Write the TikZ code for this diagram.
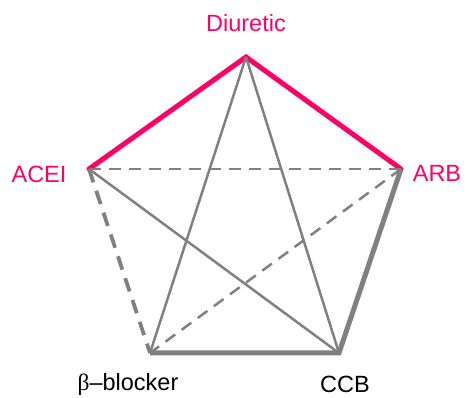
\documentclass[tikz,border=0pt]{standalone}
\usepackage{fontspec}
\setmainfont{Liberation Sans}
\newfontfamily\greekfont{Liberation Serif}
\definecolor{hot}{RGB}{255,0,102}
\definecolor{edgegray}{RGB}{128,128,128}
\begin{document}
\begin{tikzpicture}[x=1pt,y=-1pt,
  vertex/.style={inner sep=0pt,minimum size=0pt},
  lab/.style={font=\fontsize{23.5}{27}\selectfont},
  hotlab/.style={lab,text=hot},
  strong/.style={draw=hot,line width=5pt,line cap=round},
  thinedge/.style={draw=edgegray,line width=2.5pt},
  thickedge/.style={draw=edgegray,line width=5pt},
  thindash/.style={thinedge,dash pattern=on 12pt off 8pt},
  thickdash/.style={draw=edgegray,line width=3.8pt,dash pattern=on 14pt off 9pt}]
\useasboundingbox (0,0) rectangle (469,398);
% vertices of the pentagon
\coordinate (diu) at (246,57);
\coordinate (acei) at (89,169);
\coordinate (arb) at (401,169);
\coordinate (beta) at (150,353);
\coordinate (ccb) at (339,353);
% labels
\node[hotlab] (ldiu) at (246,23) {Diuretic};
\node[hotlab] (lacei) at (39,174) {ACEI};
\node[hotlab] (larb) at (437,173) {ARB};
\node[lab] (lbeta) at (128,384) {{\greekfont β}–blocker};
\node[lab] (lccb) at (345,384) {CCB};
% edges
\draw[strong] (acei) -- (diu) -- (arb);
\draw[thindash] (acei) -- (arb);
\draw[thindash] (arb) -- (beta);
\draw[thickdash] (acei) -- (beta);
\draw[thinedge] (acei) -- (ccb);
\draw[thinedge] (diu) -- (beta);
\draw[thinedge] (diu) -- (ccb);
\draw[thickedge] (arb) -- (ccb) -- (beta);
\end{tikzpicture}
\end{document}
